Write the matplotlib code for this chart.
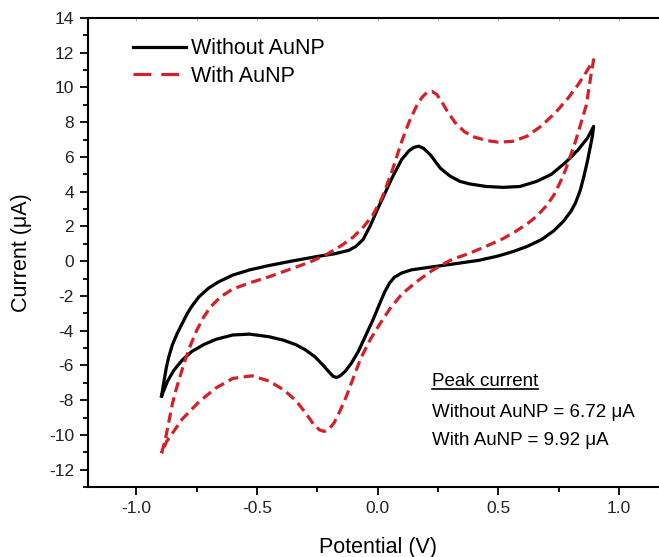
import matplotlib
matplotlib.use("Agg")
import matplotlib.pyplot as plt
from matplotlib.lines import Line2D
from matplotlib.ticker import MultipleLocator

plt.rcParams['font.family'] = ['Liberation Sans', 'DejaVu Sans']
plt.rcParams['axes.unicode_minus'] = False

# Without AuNP: forward (anodic) sweep then return sweep
bare_fwd_v = [-0.895, -0.885, -0.875, -0.865, -0.85, -0.83, -0.81, -0.79, -0.77, -0.74, -0.70,
              -0.66, -0.60, -0.53, -0.45, -0.35, -0.25, -0.18, -0.12, -0.09, -0.06, -0.03, 0.0,
              0.03, 0.06, 0.10, 0.13, 0.15, 0.17, 0.19, 0.22, 0.26, 0.30, 0.34, 0.38, 0.45,
              0.52, 0.59, 0.66, 0.72, 0.78, 0.83, 0.87, 0.895]
bare_fwd_i = [-7.76, -6.9, -6.1, -5.5, -4.8, -4.15, -3.6, -3.05, -2.6, -2.05, -1.55,
              -1.2, -0.8, -0.5, -0.25, 0.02, 0.27, 0.42, 0.62, 0.85, 1.25, 2.05, 3.0,
              3.9, 4.8, 5.86, 6.35, 6.55, 6.62, 6.5, 6.1, 5.35, 4.9, 4.6, 4.45, 4.3,
              4.25, 4.3, 4.6, 5.0, 5.7, 6.4, 7.1, 7.76]
bare_rev_v = [0.895, 0.89, 0.88, 0.87, 0.855, 0.84, 0.82, 0.80, 0.77, 0.73, 0.68, 0.62, 0.56,
              0.50, 0.42, 0.31, 0.20, 0.14, 0.10, 0.07, 0.05, 0.03, 0.01, -0.02, -0.05, -0.08,
              -0.11, -0.135, -0.155, -0.17, -0.185, -0.20, -0.225, -0.26, -0.30, -0.34, -0.39,
              -0.45, -0.53, -0.60, -0.67, -0.72, -0.77, -0.81, -0.845, -0.87, -0.895]
bare_rev_i = [7.76, 7.2, 6.5, 5.8, 4.9, 4.1, 3.35, 2.85, 2.3, 1.75, 1.25, 0.85, 0.55,
              0.3, 0.05, -0.17, -0.38, -0.5, -0.68, -0.92, -1.25, -1.75, -2.4, -3.4, -4.3, -5.2,
              -5.9, -6.35, -6.6, -6.7, -6.62, -6.4, -6.0, -5.5, -5.1, -4.8, -4.55,
              -4.35, -4.2, -4.25, -4.5, -4.8, -5.2, -5.7, -6.3, -6.9, -7.76]

# With AuNP
au_fwd_v = [-0.895, -0.88, -0.87, -0.86, -0.85, -0.835, -0.82, -0.80, -0.78, -0.75, -0.72,
            -0.69, -0.65, -0.60, -0.53, -0.45, -0.36, -0.28, -0.21, -0.15, -0.10, -0.06,
            -0.02, 0.02, 0.06, 0.10, 0.13, 0.16, 0.185, 0.205, 0.225, 0.245, 0.265, 0.29,
            0.32, 0.36, 0.40, 0.45, 0.50, 0.56, 0.62, 0.68, 0.74, 0.79, 0.83, 0.865, 0.895]
au_fwd_i = [-11.05, -10.3, -9.6, -8.9, -8.2, -7.4, -6.7, -5.8, -5.0, -4.0, -3.2,
            -2.6, -2.05, -1.6, -1.25, -0.9, -0.45, -0.05, 0.4, 0.9, 1.4, 1.95,
            2.65, 3.7, 5.2, 6.9, 8.0, 8.9, 9.45, 9.72, 9.78, 9.6, 9.2, 8.6,
            8.0, 7.45, 7.15, 6.95, 6.85, 6.9, 7.2, 7.8, 8.6, 9.4, 10.15, 10.9, 11.6]
au_rev_v = [0.895, 0.885, 0.875, 0.865, 0.85, 0.835, 0.82, 0.80, 0.78, 0.755, 0.73, 0.70,
            0.66, 0.62, 0.57, 0.52, 0.45, 0.38, 0.31, 0.26, 0.216, 0.16, 0.10, 0.05, 0.01,
            -0.03, -0.07, -0.10, -0.13, -0.155, -0.18, -0.20, -0.22, -0.24, -0.265, -0.295,
            -0.34, -0.39, -0.45, -0.52, -0.60, -0.67, -0.74, -0.81, -0.85, -0.875, -0.895]
au_rev_i = [11.6, 10.8, 9.9, 9.0, 8.3, 7.6, 6.9, 6.1, 5.3, 4.5, 3.8, 3.2,
            2.6, 2.15, 1.7, 1.3, 0.86, 0.45, 0.11, -0.25, -0.63, -1.2, -1.9, -2.76, -3.6,
            -4.5, -5.6, -6.7, -7.8, -8.6, -9.3, -9.65, -9.8, -9.72, -9.4, -8.8,
            -8.0, -7.4, -6.9, -6.6, -6.75, -7.3, -8.1, -9.1, -9.9, -10.4, -11.05]

labels = ["Without AuNP", "With AuNP"]
peak_title = "Peak current"
peak_lines = ["Without AuNP = 6.72 \u03bcA", "With AuNP = 9.92 \u03bcA"]

black = "#000000"
red = "#d42027"

fig = plt.figure(figsize=(6.59, 5.57), dpi=100)
ax = fig.add_axes([0.1335, 0.1257, 0.879, 0.842])

ax.plot(bare_fwd_v + bare_rev_v, bare_fwd_i + bare_rev_i, color=black, lw=2.3,
        solid_joinstyle='round')
ax.plot(au_fwd_v + au_rev_v, au_fwd_i + au_rev_i, color=red, lw=2.3,
        dashes=(3.2, 1.7), dash_capstyle='butt')

ax.set_xlim(-1.2, 1.2)
ax.set_ylim(-13, 14)
ax.xaxis.set_major_locator(MultipleLocator(0.5))
ax.xaxis.set_minor_locator(MultipleLocator(0.25))
ax.yaxis.set_major_locator(MultipleLocator(2))
ax.yaxis.set_minor_locator(MultipleLocator(1))
ax.xaxis.set_major_formatter(lambda v, p: f"{v:.1f}")

ax.tick_params(which='major', direction='out', length=6, width=1.3, labelsize=12.5,
               labelcolor='#222222', pad=4)
ax.tick_params(which='minor', direction='out', length=3.5, width=1.3)
for sp in ax.spines.values():
    sp.set_linewidth(1.5)
ax.spines['right'].set_visible(False)

# faint inward ticks along the top edge
top = ax.secondary_xaxis('top')
top.xaxis.set_major_locator(MultipleLocator(0.25))
top.tick_params(direction='in', length=2.5, width=0.6, color='#999999', labeltop=False)
top.spines['top'].set_visible(False)

ax.set_xlabel("Potential (V)", fontsize=15.5, labelpad=15)
ax.set_ylabel("Current (\u03bcA)", fontsize=15.5, labelpad=12)

handles = [Line2D([], [], color=black, lw=2.3),
           Line2D([], [], color=red, lw=2.3, dashes=(5.6, 3.1))]
ax.legend(handles, labels, loc='upper left', bbox_to_anchor=(0.077, 0.957), frameon=False,
          fontsize=15.5, handlelength=2.5, handletextpad=0.2, labelspacing=0.3, borderpad=0,
          borderaxespad=0)

t = ax.text(0.225, -6.95, peak_title, fontsize=13.5, va='center', ha='left')
ax.text(0.225, -8.7, peak_lines[0], fontsize=13.5, va='center', ha='left')
ax.text(0.225, -10.35, peak_lines[1], fontsize=13.5, va='center', ha='left')

# underline the heading
fig.canvas.draw()
bb = t.get_window_extent().transformed(fig.transFigure.inverted())
fig.add_artist(Line2D([bb.x0, bb.x1], [bb.y0 + 0.002, bb.y0 + 0.002], color=black, lw=1.2,
                      transform=fig.transFigure))

fig.savefig("out.png", dpi=100)
